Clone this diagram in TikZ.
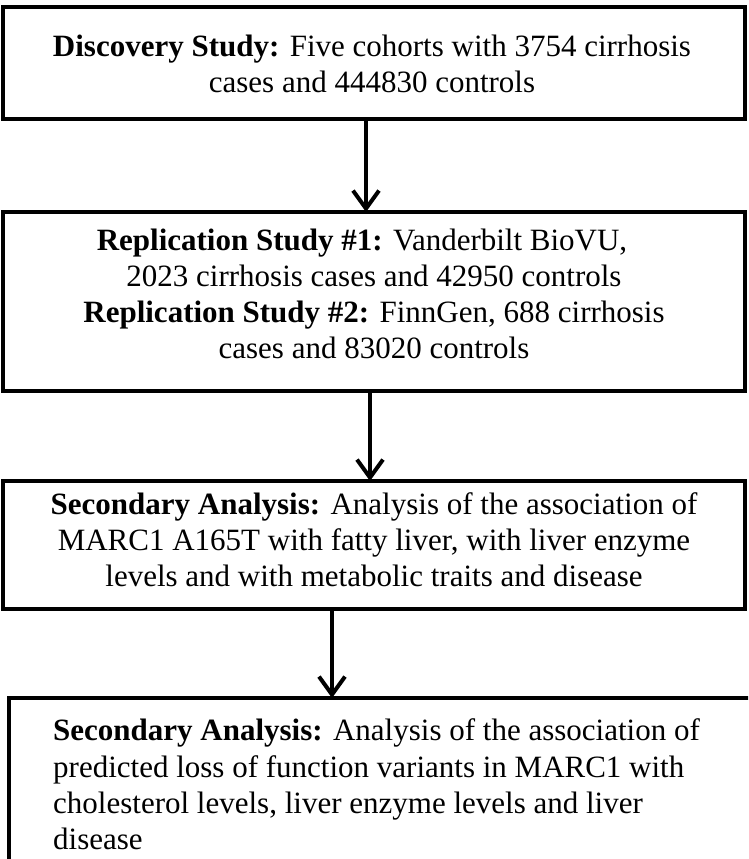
\documentclass[tikz,border=0pt]{standalone}
\usepackage{fontspec}
\setmainfont{Liberation Serif}
\usetikzlibrary{arrows.meta}
\begin{document}
\begin{tikzpicture}[x=1pt,y=1pt,
  box/.style={draw=black, line width=4pt, rectangle, inner sep=0pt, outer sep=0pt},
  txt/.style={inner sep=0pt, font=\fontsize{31}{36}\selectfont},
  arr/.style={line width=4pt, -{Straight Barb[length=18pt,width=26pt,line width=4pt]}}]
\useasboundingbox (0,0) rectangle (748,-859);
\clip (0,0) rectangle (748,-859);
% boxes
\node[box, minimum width=742pt, minimum height=112pt] (b1) at (374,-63) {};
\node[box, minimum width=742pt, minimum height=179pt] (b2) at (374,-301.5) {};
\node[box, minimum width=742pt, minimum height=128pt] (b3) at (374,-545) {};
\node[box, minimum width=791pt, minimum height=202pt] (b4) at (404.5,-799) {};
% texts
\node[txt, anchor=north, align=center] (t1) at (372,-34.8)
  {\textbf{Discovery Study:} Five cohorts with 3754 cirrhosis\\cases and 444830 controls};
\node[txt, anchor=north, align=center] (t2) at (374,-228.8)
  {\textbf{Replication Study \#1:} Vanderbilt BioVU,\hspace*{24pt}\\2023 cirrhosis cases and 42950 controls\\\textbf{Replication Study \#2:} FinnGen, 688 cirrhosis\\cases and 83020 controls};
\node[txt, anchor=north, align=center] (t3) at (374,-492.8)
  {\textbf{Secondary Analysis:} Analysis of the association of\\MARC1 A165T with fatty liver, with liver enzyme\\levels and with metabolic traits and disease};
\node[txt, anchor=north west, align=left, font=\fontsize{31}{36.3}\selectfont] (t4) at (53,-718.8)
  {\textbf{Secondary Analysis:} Analysis of the association of\\predicted loss of function variants in MARC1 with\\cholesterol levels, liver enzyme levels and liver\\disease};
% arrows
\coordinate (x1) at (366,0);
\coordinate (x2) at (370,0);
\coordinate (x3) at (332,0);
\draw[arr] (b1.south -| x1) -- (b2.north -| x1);
\draw[arr] (b2.south -| x2) -- (b3.north -| x2);
\draw[arr] (b3.south -| x3) -- (b4.north -| x3);
\end{tikzpicture}
\end{document}
